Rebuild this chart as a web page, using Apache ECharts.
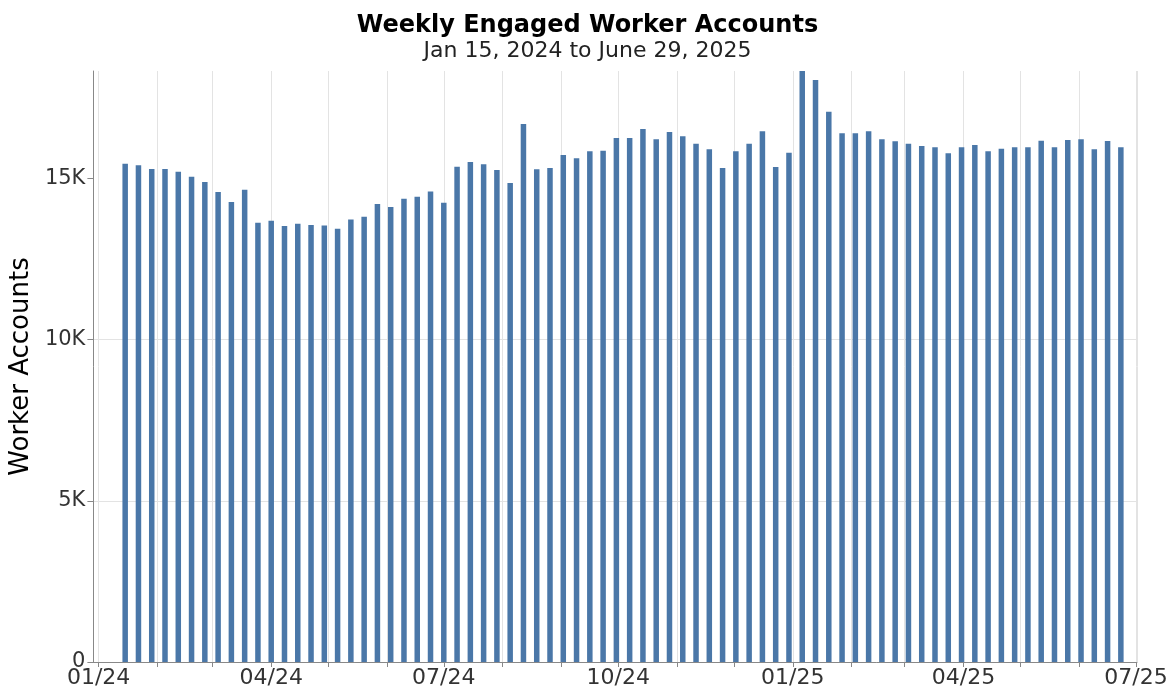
<!DOCTYPE html>
<html>
<head>
<meta charset="utf-8">
<title>Weekly Engaged Worker Accounts</title>
<script src="https://cdn.jsdelivr.net/npm/echarts@6/dist/echarts.min.js"></script>
<style>
  html, body { margin: 0; padding: 0; background: #fff; }
  #chart { width: 1175px; height: 695px; }
</style>
</head>
<body>
<div id="chart"></div>
<script>
// week start dates (Mon)
var weeks = [
  "2024-01-15", "2024-01-22", "2024-01-29", "2024-02-05", "2024-02-12", "2024-02-19", "2024-02-26",
  "2024-03-04", "2024-03-11", "2024-03-18", "2024-03-25", "2024-04-01", "2024-04-08", "2024-04-15",
  "2024-04-22", "2024-04-29", "2024-05-06", "2024-05-13", "2024-05-20", "2024-05-27", "2024-06-03",
  "2024-06-10", "2024-06-17", "2024-06-24", "2024-07-01", "2024-07-08", "2024-07-15", "2024-07-22",
  "2024-07-29", "2024-08-05", "2024-08-12", "2024-08-19", "2024-08-26", "2024-09-02", "2024-09-09",
  "2024-09-16", "2024-09-23", "2024-09-30", "2024-10-07", "2024-10-14", "2024-10-21", "2024-10-28",
  "2024-11-04", "2024-11-11", "2024-11-18", "2024-11-25", "2024-12-02", "2024-12-09", "2024-12-16",
  "2024-12-23", "2024-12-30", "2025-01-06", "2025-01-13", "2025-01-20", "2025-01-27", "2025-02-03",
  "2025-02-10", "2025-02-17", "2025-02-24", "2025-03-03", "2025-03-10", "2025-03-17", "2025-03-24",
  "2025-03-31", "2025-04-07", "2025-04-14", "2025-04-21", "2025-04-28", "2025-05-05", "2025-05-12",
  "2025-05-19", "2025-05-26", "2025-06-02", "2025-06-09", "2025-06-16", "2025-06-23"
];

// engaged worker accounts per week
var accounts = [
  15455, 15404, 15290, 15290, 15207, 15052, 14886, 14576, 14265, 14648,
  13623, 13685, 13520, 13592, 13551, 13540, 13437, 13727, 13810, 14203,
  14110, 14369, 14431, 14596, 14244, 15362, 15507, 15435, 15259, 14855,
  16687, 15280, 15321, 15725, 15621, 15839, 15859, 16253, 16253, 16532,
  16211, 16439, 16304, 16077, 15901, 15321, 15839, 16077, 16460, 15352,
  15797, 18330, 18054, 17070, 16398, 16398, 16460, 16211, 16149, 16077,
  16004, 15963, 15776, 15963, 16035, 15839, 15921, 15963, 15963, 16170,
  15963, 16190, 16211, 15901, 16159, 15963
];

var yTicks = [0, 5000, 10000, 15000];
var xLabelMonths = [0, 3, 6, 9]; // 01, 04, 07, 10

var FONT = "DejaVu Sans";

var chartDom = document.getElementById("chart");
var myChart = echarts.init(chartDom);

function pad2(n) {
  return n < 10 ? "0" + n : "" + n;
}

var option = {
  animation: false,
  title: [
    {
      text: "Weekly Engaged Worker Accounts",
      left: "center",
      top: 9,
      textStyle: { fontFamily: FONT, fontSize: 24, fontWeight: "bold", color: "#000" }
    },
    {
      text: "Jan 15, 2024 to June 29, 2025",
      left: "center",
      top: 35,
      textStyle: { fontFamily: FONT, fontSize: 22, fontWeight: "normal", color: "#222" }
    }
  ],
  grid: {
    left: 92,
    right: 38,
    top: 71,
    bottom: 33
  },
  xAxis: {
    type: "time",
    // bars pad the extent by half a bar on each side, so these sit inside the drawn range
    min: "2023-12-30T16:30:00",
    max: "2025-06-30T01:30:00",
    splitNumber: 18,
    minInterval: 28 * 24 * 3600 * 1000,
    maxInterval: 31 * 24 * 3600 * 1000,
    axisLine: { show: true, lineStyle: { color: "#888", width: 1 } },
    axisTick: { show: true, length: 5, lineStyle: { color: "#888" } },
    splitLine: { show: true, lineStyle: { color: "#e3e3e3", width: 1 } },
    axisLabel: {
      fontFamily: FONT,
      fontSize: 22,
      color: "#333",
      margin: 5,
      hideOverlap: false,
      showMinLabel: false,
      formatter: function (val) {
        var d = new Date(val);
        if (d.getDate() !== 1 || xLabelMonths.indexOf(d.getMonth()) < 0) return "";
        return pad2(d.getMonth() + 1) + "/" + pad2(d.getFullYear() % 100);
      }
    }
  },
  yAxis: {
    type: "value",
    min: 0,
    max: 18330,
    interval: 5000,
    name: "Worker Accounts",
    nameLocation: "middle",
    nameRotate: 90,
    nameGap: 56,
    nameTextStyle: { fontFamily: FONT, fontSize: 26, color: "#000" },
    axisLine: { show: true, lineStyle: { color: "#888", width: 1 } },
    axisTick: { show: true, length: 6, lineStyle: { color: "#888" }, customValues: yTicks },
    splitLine: { show: true, showMaxLine: false, lineStyle: { color: "#e3e3e3", width: 1 } },
    axisLabel: {
      fontFamily: FONT,
      fontSize: 21,
      color: "#333",
      margin: 8,
      customValues: yTicks,
      formatter: function (v) {
        if (v % 5000 !== 0) return "";
        return v === 0 ? "0" : v / 1000 + "K";
      }
    }
  },
  series: [
    {
      name: "Worker Accounts",
      type: "bar",
      barWidth: 5.5,
      itemStyle: { color: "#4a77a8" },
      data: weeks.map(function (w, i) {
        return [w, accounts[i]];
      })
    }
  ]
};

option && myChart.setOption(option);
</script>
</body>
</html>
